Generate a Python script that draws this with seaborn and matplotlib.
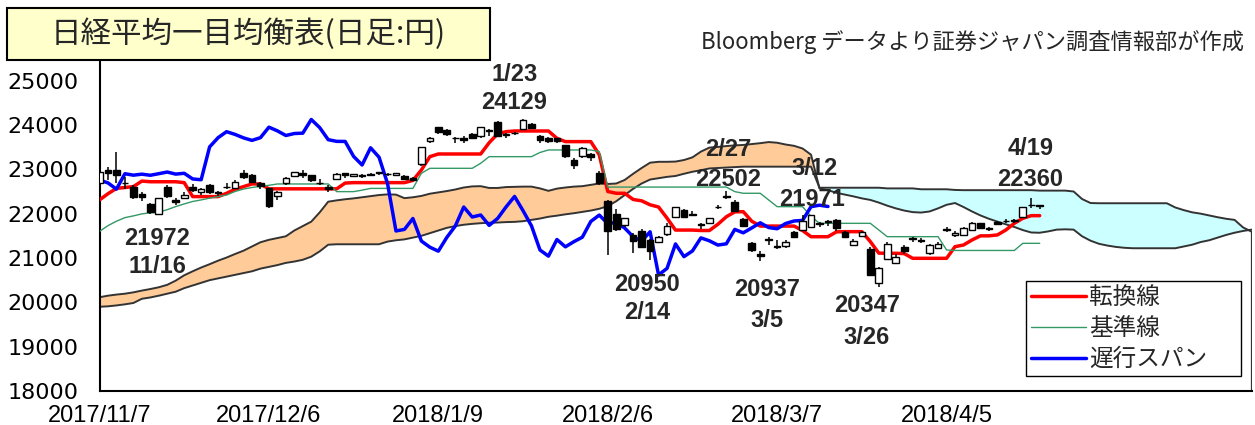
import numpy as np
import seaborn as sns
import matplotlib.pyplot as plt
from matplotlib.patches import Rectangle

# Values (Nikkei 225, daily, 2017/11/7 - 2018/4/20)
tick_labels = ['2017/11/7', '2017/12/6', '2018/1/9', '2018/2/6', '2018/3/7', '2018/4/5', '']

opens = [22700, 22980, 22990, 22700, 22600, 22450, 22220, 22000, 22600, 22300,
         22350, 22600, 22480, 22650, 22470, 22600, 22580, 22910, 22870, 22700,
         22570, 22400, 22700, 22850, 22920, 22870, 22700, 22600, 22780, 22910,
         22850, 22850, 22870, 22910, 22900, 22880, 22850, 22800, 23130, 23650,
         23950, 23880, 23700, 23700, 23800, 23750, 23880, 24078, 23780, 23830,
         23900, 24030, 23750, 23700, 23700, 23550, 23200, 23300, 23350, 22920,
         22280, 22000, 21750, 21520, 21600, 21400, 21370, 21540, 21930, 22080,
         22000, 21760, 21800, 22150, 22380, 22270, 21870, 21330, 21080, 21430,
         21270, 21260, 21590, 21640, 21700, 21780, 21840, 21850, 21580, 21300,
         21500, 21200, 20440, 20970, 20880, 21250, 21420, 21400, 21110, 21230,
         21630, 21520, 21520, 21640, 21780, 21670, 21820, 21830, 21840, 21930,
         22190, 22190]
highs = [22950, 23050, 23382, 22830, 22650, 22500, 22240, 22360, 22650, 22350,
         22500, 22680, 22580, 22660, 22520, 22700, 22750, 22994, 22900, 22720,
         22580, 22510, 22830, 22950, 22990, 22880, 22780, 22650, 22920, 22920,
         22900, 22900, 22920, 22950, 22920, 22920, 22870, 22830, 23506, 23730,
         23952, 23900, 23730, 23750, 23830, 23960, 23900, 24084, 23830, 23850,
         24129, 24050, 23770, 23720, 23710, 23560, 23250, 23500, 23370, 22970,
         22300, 22100, 21900, 21560, 21650, 21420, 21500, 21780, 22160, 22100,
         22050, 21800, 21900, 22200, 22502, 22300, 21900, 21350, 21150, 21480,
         21400, 21400, 21620, 21971, 21970, 21820, 21860, 21880, 21600, 21420,
         21610, 21250, 20800, 21350, 21100, 21300, 21480, 21450, 21320, 21350,
         21700, 21600, 21700, 21810, 21790, 21700, 21830, 21870, 21870, 22160,
         22360, 22200]
lows = [22600, 22750, 22700, 22550, 22330, 22280, 21990, 21972, 22350, 22200,
        22330, 22500, 22420, 22450, 22400, 22550, 22560, 22780, 22700, 22560,
        22119, 22300, 22650, 22840, 22800, 22720, 22650, 22500, 22760, 22800,
        22820, 22800, 22840, 22880, 22860, 22860, 22750, 22750, 23073, 23600,
        23800, 23750, 23600, 23600, 23690, 23700, 23750, 23740, 23700, 23780,
        23880, 23900, 23600, 23600, 23600, 23250, 23000, 23250, 23180, 22650,
        21078, 21600, 21700, 21110, 21220, 20950, 21350, 21500, 21900, 21900,
        21940, 21650, 21780, 22100, 22330, 22040, 21700, 21130, 20937, 21300,
        21200, 21220, 21440, 21620, 21680, 21700, 21720, 21600, 21450, 21280,
        21480, 20600, 20347, 20950, 20860, 21100, 21350, 21330, 21060, 21200,
        21580, 21480, 21500, 21620, 21660, 21600, 21740, 21800, 21800, 21920,
        22120, 22100]
closes = [22938, 22914, 22869, 22681, 22381, 22380, 22028, 22351, 22397, 22261,
          22416, 22523, 22550, 22495, 22486, 22597, 22724, 22819, 22707, 22622,
          22177, 22498, 22811, 22938, 22866, 22758, 22694, 22553, 22901, 22868,
          22891, 22866, 22902, 22939, 22892, 22911, 22783, 22765, 23506, 23714,
          23849, 23788, 23710, 23653, 23714, 23951, 23868, 23763, 23808, 23816,
          24124, 23940, 23669, 23631, 23629, 23291, 23098, 23486, 23274, 22682,
          21610, 21645, 21891, 21382, 21244, 21154, 21464, 21720, 22150, 21925,
          21970, 21736, 21892, 22153, 22389, 22068, 21724, 21181, 21042, 21417,
          21252, 21368, 21469, 21824, 21968, 21777, 21803, 21676, 21480, 21380,
          21591, 20617, 20766, 21317, 21031, 21159, 21454, 21388, 21292, 21320,
          21645, 21568, 21678, 21794, 21687, 21660, 21778, 21835, 21847, 22158,
          22191, 22162]

tenkan = [22310, 22450, 22570, 22590, 22610, 22735, 22720, 22720, 22720, 22720,
          22700, 22385, 22385, 22385, 22385, 22460, 22550, 22610, 22670, 22670,
          22560, 22560, 22560, 22560, 22560, 22560, 22560, 22560, 22560, 22690,
          22700, 22700, 22700, 22700, 22700, 22700, 22700, 22750, 22985, 23286,
          23346, 23346, 23346, 23346, 23346, 23346, 23600, 23800, 23850, 23865,
          23865, 23865, 23865, 23865, 23700, 23625, 23625, 23625, 23625, 23330,
          22500, 22460, 22460, 22320, 22290, 22200, 22150, 21900, 21630, 21630,
          21630, 21620, 21620, 21760, 21930, 22040, 22045, 21830, 21720, 21720,
          21720, 21720, 21720, 21620, 21480, 21480, 21480, 21590, 21594, 21594,
          21594, 21370, 21110, 21106, 21106, 21100, 20993, 20993, 20993, 20993,
          20993, 21256, 21293, 21406, 21500, 21500, 21520, 21632, 21782, 21895,
          21955, 21955]
kijun = [21600, 21730, 21830, 21910, 21950, 21995, 22020, 22035, 22090, 22160,
         22220, 22275, 22310, 22350, 22385, 22420, 22500, 22555, 22590, 22615,
         22640, 22670, 22670, 22670, 22670, 22670, 22670, 22670, 22497, 22497,
         22497, 22530, 22570, 22570, 22570, 22570, 22570, 22570, 22910, 23023,
         23023, 23023, 23023, 23023, 23023, 23136, 23286, 23286, 23286, 23286,
         23286, 23286, 23380, 23437, 23437, 23437, 23437, 23437, 23437, 23400,
         22600, 22600, 22600, 22600, 22600, 22600, 22600, 22600, 22600, 22600,
         22600, 22600, 22600, 22600, 22600, 22497, 22460, 22460, 22460, 22309,
         22158, 22158, 22158, 22158, 21940, 21782, 21782, 21782, 21782, 21782,
         21782, 21782, 21632, 21481, 21481, 21481, 21481, 21481, 21481, 21481,
         21181, 21170, 21170, 21170, 21170, 21170, 21170, 21170, 21170, 21331,
         21331, 21331]

# leading spans run 25 sessions past the last candle
senkou_a = [20115, 20150, 20175, 20195, 20225, 20265, 20300, 20340, 20395, 20490,
            20610, 20700, 20785, 20860, 20940, 21010, 21090, 21165, 21260, 21355,
            21410, 21450, 21490, 21620, 21720, 21820, 22030, 22270, 22300, 22325,
            22345, 22370, 22395, 22420, 22435, 22430, 22350, 22370, 22400, 22450,
            22480, 22510, 22545, 22590, 22615, 22620, 22580, 22580, 22600, 22605,
            22610, 22610, 22570, 22515, 22565, 22590, 22610, 22620, 22650, 22680,
            22670, 22680, 22760, 22900, 23030, 23150, 23170, 23170, 23175, 23210,
            23270, 23400, 23490, 23505, 23525, 23540, 23550, 23570, 23590, 23615,
            23600, 23560, 23530, 23470, 23330, 22570, 22530, 22470, 22430, 22390,
            22345, 22310, 22250, 22180, 22120, 22070, 22035, 22025, 22050, 22120,
            22200, 22240, 22150, 22050, 21960, 21885, 21820, 21760, 21700, 21630,
            21575, 21570, 21600, 21640, 21647, 21640, 21490, 21390, 21320, 21280,
            21250, 21230, 21220, 21220, 21220, 21220, 21220, 21220, 21260, 21300,
            21360, 21400, 21460, 21520, 21570, 21610, 21640]
senkou_b = [19900, 19910, 19930, 19955, 19985, 20080, 20110, 20150, 20195, 20240,
            20320, 20380, 20440, 20500, 20540, 20580, 20620, 20660, 20700, 20760,
            20800, 20840, 20890, 20920, 20960, 21030, 21150, 21300, 21310, 21310,
            21310, 21310, 21310, 21310, 21370, 21400, 21420, 21460, 21500, 21560,
            21620, 21680, 21720, 21750, 21770, 21785, 21795, 21800, 21810, 21815,
            21830, 21860, 21890, 21930, 21955, 21985, 22010, 22040, 22070, 22110,
            22170, 22280, 22420, 22560, 22680, 22770, 22800, 22830, 22850, 22900,
            22945, 22980, 23020, 23030, 23040, 23050, 23060, 23060, 23060, 23060,
            23060, 23060, 23060, 23060, 23060, 22585, 22585, 22585, 22585, 22585,
            22585, 22585, 22585, 22570, 22570, 22570, 22570, 22550, 22550, 22550,
            22550, 22535, 22530, 22530, 22530, 22530, 22530, 22530, 22530, 22530,
            22530, 22520, 22520, 22520, 22520, 22500, 22330, 22240, 22235, 22235,
            22235, 22235, 22235, 22235, 22235, 22235, 22235, 22140, 22080, 22030,
            22000, 21960, 21920, 21885, 21860, 21690, 21595]

# peak / trough notes (label, session index, price level)
notes = [('1/23', 49.0, 25130), ('24129', 49.0, 24500),
         ('21972', 6.8, 21450), ('11/16', 6.8, 20800),
         ('20950', 64.6, 20410), ('2/14', 64.6, 19760),
         ('2/27', 74.2, 23440), ('22502', 74.2, 22760),
         ('3/12', 84.4, 23010), ('21971', 84.1, 22310),
         ('20937', 78.8, 20280), ('3/5', 78.8, 19600),
         ('20347', 90.6, 19920), ('3/26', 90.6, 19200),
         ('4/19', 109.9, 23460), ('22360', 109.9, 22780)]

CHIKOU_SHIFT = 25

sns.set_style('white')
plt.rcParams['font.family'] = ['Noto Sans CJK JP', 'DejaVu Sans']

fig = plt.figure(figsize=(12.55, 4.25), dpi=100)
ax = fig.add_axes([99.5 / 1255, 1 - 391 / 425, 1152 / 1255, 332.5 / 425])

days = np.arange(len(closes))
span_x = np.arange(len(senkou_a))
a = np.array(senkou_a)
b = np.array(senkou_b)

# cloud
ax.fill_between(span_x, a, b, where=a >= b, interpolate=True, color='#FFCC99', lw=0, zorder=1)
ax.fill_between(span_x, a, b, where=a < b, interpolate=True, color='#CCFFFF', lw=0, zorder=1)
ax.plot(span_x, a, color='#333333', lw=1.4, zorder=2)
ax.plot(span_x, b, color='#333333', lw=1.4, zorder=2)
ax.vlines(span_x[-1], 18000, min(a[-1], b[-1]), color='#333333', lw=1.6, zorder=2)

# ichimoku lines
sns.lineplot(x=days, y=tenkan, color='#FF0000', lw=2.5, ax=ax, label='転換線', zorder=3)
sns.lineplot(x=days, y=kijun, color='#339966', lw=1.0, ax=ax, label='基準線', zorder=3)
sns.lineplot(x=days[CHIKOU_SHIFT:] - CHIKOU_SHIFT, y=closes[CHIKOU_SHIFT:], color='#0000FF',
             lw=2.5, ax=ax, label='遅行スパン', zorder=3)

# candles
o = np.array(opens)
c = np.array(closes)
up = c >= o
ax.vlines(days, lows, highs, color='black', lw=1.1, zorder=4)
ax.bar(days[up], (c - o)[up], bottom=o[up], width=0.78, color='white',
       edgecolor='black', lw=1.0, zorder=5)
ax.bar(days[~up], (o - c)[~up], bottom=c[~up], width=0.78, color='black',
       edgecolor='black', lw=1.0, zorder=5)

for txt, xi, yv in notes:
    ax.text(xi, yv, txt, ha='center', va='center', fontsize=17, fontweight='bold',
            family=['Liberation Sans', 'DejaVu Sans'], zorder=6)

ax.set_xlim(0, span_x[-1])
ax.set_ylim(18000, 25500)
ax.set_xticks(np.arange(0, 121, 20))
ax.set_xticklabels(tick_labels, family=['Liberation Sans', 'DejaVu Sans'], fontsize=17)
ax.set_yticks(np.arange(18000, 25001, 1000))
ax.set_yticklabels([str(v) for v in range(18000, 25001, 1000)], family='DejaVu Sans', fontsize=16)
ax.tick_params(axis='y', direction='in', length=7, width=1.2, pad=15, colors='black')
ax.tick_params(axis='x', direction='out', length=6, width=1.2, pad=4, colors='black')
ax.set_xlabel('')
ax.set_ylabel('')
sns.despine(ax=ax, top=True, right=True)
for side in ['left', 'bottom']:
    ax.spines[side].set_color('black')
    ax.spines[side].set_linewidth(1.5)

leg = ax.legend(loc='upper left',
                bbox_to_anchor=(1026 / 1255, 1 - 378 / 425, 215 / 1255, 97 / 425),
                bbox_transform=fig.transFigure, mode='expand', frameon=True, fancybox=False,
                edgecolor='black', framealpha=1, fontsize=17, handlelength=2.3,
                handletextpad=0.15, labelspacing=0.33, borderpad=0.22, borderaxespad=0)
leg.get_frame().set_linewidth(1.0)
leg.set_zorder(10)

# title box and source note
fig.patches.append(Rectangle((7 / 1255, 1 - 60 / 425), 483 / 1255, 52 / 425,
                             transform=fig.transFigure, facecolor='#FFFFCC',
                             edgecolor='black', lw=1.5, zorder=5))
fig.text(248 / 1255, 1 - 34 / 425, '日経平均一目均衡表(日足:円)', fontsize=22,
         ha='center', va='center', zorder=6)
fig.text(1244 / 1255, 1 - 42 / 425, 'Bloomberg データより証券ジャパン調査情報部が作成',
         fontsize=16, ha='right', va='center')

fig.savefig('out.png', dpi=100)
